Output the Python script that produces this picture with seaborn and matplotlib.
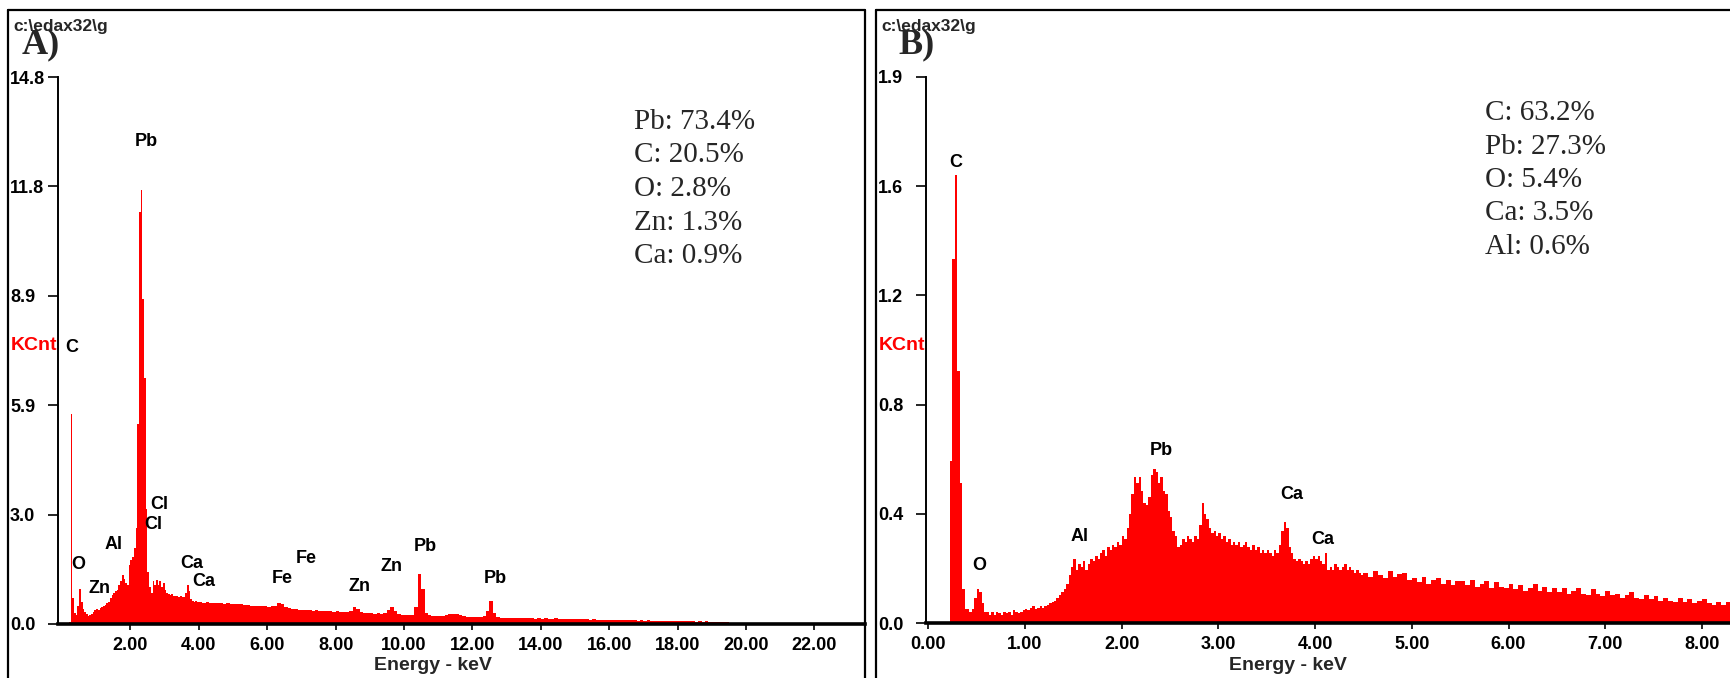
import numpy as np
import pandas as pd
import matplotlib
matplotlib.use("Agg")
import matplotlib.pyplot as plt
import seaborn as sns
from matplotlib.lines import Line2D

# ---------------- data ----------------
# Panel A spectrum (KCnt), fine channels 0.05 keV from 0.20, coarse 0.10 keV from 4.00
a_fine_start, a_fine_step = 0.20, 0.05
a_fine_counts = [
    0.05, 5.68, 0.70, 0.30, 0.25, 0.50, 0.95, 0.60, 0.40, 0.32,
    0.26, 0.22, 0.24, 0.28, 0.33, 0.38, 0.40, 0.38, 0.42, 0.45,
    0.48, 0.52, 0.56, 0.60, 0.70, 0.78, 0.84, 0.88, 0.92, 1.05,
    1.15, 1.33, 1.22, 1.12, 1.05, 1.60, 1.72, 1.80, 2.05, 2.60,
    5.40, 11.15, 11.75, 8.80, 6.65, 3.10, 1.40, 1.00, 0.85, 1.15,
    1.05, 1.20, 1.05, 1.15, 1.00, 1.10, 0.92, 0.85, 0.80, 0.78,
    0.80, 0.76, 0.75, 0.76, 0.74, 0.75, 0.72, 0.74, 0.85, 1.05,
    0.88, 0.68, 0.62, 0.60, 0.61, 0.59,
]
a_coarse_start, a_coarse_step = 4.00, 0.10
a_coarse_counts = [
    0.60, 0.58, 0.59, 0.57, 0.58, 0.56, 0.57, 0.55, 0.56, 0.54,
    0.55, 0.53, 0.54, 0.52, 0.51, 0.50, 0.49, 0.50, 0.48, 0.49,
    0.47, 0.48, 0.50, 0.58, 0.55, 0.45, 0.42, 0.40, 0.41, 0.38,
    0.39, 0.37, 0.38, 0.36, 0.37, 0.35, 0.36, 0.34, 0.35, 0.33,
    0.34, 0.33, 0.32, 0.33, 0.36, 0.46, 0.40, 0.32, 0.30, 0.29,
    0.30, 0.28, 0.29, 0.28, 0.30, 0.38, 0.47, 0.36, 0.27, 0.25,
    0.24, 0.25, 0.24, 0.45, 1.35, 0.95, 0.30, 0.24, 0.22, 0.21,
    0.21, 0.22, 0.25, 0.27, 0.26, 0.27, 0.25, 0.21, 0.19, 0.19,
    0.18, 0.19, 0.18, 0.22, 0.35, 0.62, 0.30, 0.20, 0.17, 0.16,
    0.17, 0.16, 0.15, 0.16, 0.15, 0.16, 0.15, 0.15, 0.14, 0.15,
    0.14, 0.15, 0.14, 0.14, 0.15, 0.14, 0.13, 0.14, 0.13, 0.14,
    0.13, 0.14, 0.13, 0.13, 0.12, 0.13, 0.12, 0.12, 0.11, 0.12,
    0.11, 0.11, 0.10, 0.11, 0.10, 0.11, 0.10, 0.10, 0.09, 0.10,
    0.09, 0.10, 0.09, 0.09, 0.08, 0.09, 0.08, 0.08, 0.07, 0.08,
    0.07, 0.07, 0.08, 0.07, 0.07, 0.06, 0.07, 0.06, 0.07, 0.06,
    0.06, 0.06, 0.06, 0.05, 0.06,
]

# Panel B spectrum (KCnt), fine channels 0.025 keV from 0.20, coarse 0.05 keV from 4.50
b_fine_start, b_fine_step = 0.20, 0.025
b_fine_counts = [
    0.00, 0.58, 1.30, 1.60, 0.90, 0.50, 0.12, 0.05,
    0.05, 0.04, 0.05, 0.09, 0.12, 0.11, 0.07, 0.04,
    0.04, 0.03, 0.04, 0.03, 0.04, 0.035, 0.03, 0.04,
    0.035, 0.04, 0.03, 0.045, 0.04, 0.035, 0.04, 0.045,
    0.05, 0.045, 0.055, 0.06, 0.05, 0.055, 0.06, 0.055,
    0.06, 0.065, 0.07, 0.075, 0.08, 0.09, 0.10, 0.11,
    0.12, 0.14, 0.17, 0.20, 0.23, 0.19, 0.21, 0.20,
    0.22, 0.19, 0.21, 0.23, 0.22, 0.24, 0.23, 0.25,
    0.26, 0.24, 0.27, 0.26, 0.28, 0.27, 0.29, 0.28,
    0.31, 0.30, 0.34, 0.39, 0.46, 0.52, 0.50, 0.52,
    0.47, 0.43, 0.42, 0.45, 0.53, 0.55, 0.54, 0.50,
    0.52, 0.47, 0.46, 0.40, 0.38, 0.33, 0.31, 0.27,
    0.28, 0.30, 0.29, 0.31, 0.30, 0.29, 0.31, 0.30,
    0.35, 0.43, 0.39, 0.37, 0.34, 0.32, 0.33, 0.31,
    0.32, 0.30, 0.31, 0.29, 0.30, 0.28, 0.29, 0.28,
    0.29, 0.27, 0.28, 0.29, 0.27, 0.26, 0.28, 0.26,
    0.27, 0.25, 0.26, 0.25, 0.26, 0.25, 0.24, 0.26,
    0.25, 0.28, 0.33, 0.36, 0.34, 0.27, 0.25, 0.23,
    0.22, 0.23, 0.22, 0.21, 0.22, 0.21, 0.23, 0.24,
    0.23, 0.24, 0.22, 0.21, 0.25, 0.19, 0.20, 0.19,
    0.21, 0.20, 0.19, 0.20, 0.21, 0.19, 0.20, 0.19,
    0.18, 0.19, 0.18, 0.17,
]
b_coarse_start, b_coarse_step = 4.50, 0.05
b_coarse_counts = [
    0.18, 0.165, 0.185, 0.17, 0.16, 0.185, 0.165, 0.175, 0.18, 0.155,
    0.16, 0.145, 0.165, 0.14, 0.155, 0.16, 0.14, 0.155, 0.135, 0.15,
    0.15, 0.135, 0.155, 0.13, 0.14, 0.15, 0.125, 0.145, 0.13, 0.125,
    0.14, 0.12, 0.135, 0.115, 0.125, 0.14, 0.115, 0.13, 0.11, 0.125,
    0.11, 0.125, 0.105, 0.115, 0.125, 0.105, 0.10, 0.12, 0.105, 0.095,
    0.115, 0.10, 0.105, 0.09, 0.10, 0.11, 0.09, 0.085, 0.10, 0.085,
    0.095, 0.08, 0.09, 0.08, 0.075, 0.09, 0.075, 0.085, 0.07, 0.08,
    0.085, 0.07, 0.065, 0.075, 0.065, 0.075,
]

a_xticks = [2, 4, 6, 8, 10, 12, 14, 16, 18, 20, 22]
a_xticklabels = ["2.00", "4.00", "6.00", "8.00", "10.00", "12.00", "14.00",
                 "16.00", "18.00", "20.00", "22.00"]
a_ymax = 14.8
a_yticks = [0, 2.96, 5.92, 8.88, 11.84, 14.8]
a_yticklabels = ["0.0", "3.0", "5.9", "8.9", "11.8", "14.8"]

b_xticks = [0, 1, 2, 3, 4, 5, 6, 7, 8]
b_xticklabels = ["0.00", "1.00", "2.00", "3.00", "4.00", "5.00", "6.00", "7.00", "8.00"]
b_ymax = 1.95
b_yticks = [0, 0.39, 0.78, 1.17, 1.56, 1.95]
b_yticklabels = ["0.0", "0.4", "0.8", "1.2", "1.6", "1.9"]

a_peak_names = ["Pb", "C", "Cl", "Cl", "Al", "O", "Zn", "Ca", "Ca", "Fe", "Fe",
                "Zn", "Zn", "Pb", "Pb"]
b_peak_names = ["C", "O", "Al", "Pb", "Ca", "Ca"]

a_composition = ["Pb: 73.4%", "C: 20.5%", "O: 2.8%", "Zn: 1.3%", "Ca: 0.9%"]
b_composition = ["C: 63.2%", "Pb: 27.3%", "O: 5.4%", "Ca: 3.5%", "Al: 0.6%"]

# ---------------- layout (pixels of the 1730x678 canvas) ----------------
W, H = 1730, 678
a_peak_pos = [(2.47, 13.05), (0.28, 7.49), (2.84, 3.23), (2.66, 2.68), (1.52, 2.14),
              (0.47, 1.60), (1.11, 0.95), (3.79, 1.64), (4.14, 1.15), (6.45, 1.23),
              (7.13, 1.77), (8.71, 1.01), (9.63, 1.56), (10.61, 2.10), (12.66, 1.23)]
b_peak_pos = [(0.286, 1.643), (0.53, 0.204), (1.56, 0.31), (2.41, 0.615),
              (3.76, 0.46), (4.08, 0.30)]


def build(start_f, step_f, cnt_f, start_c, step_c, cnt_c):
    e_f = start_f + step_f * np.arange(len(cnt_f))
    e_c = start_c + step_c * np.arange(len(cnt_c))
    edges = np.concatenate([e_f, e_c, [e_c[-1] + step_c]])
    centers = np.concatenate([e_f + step_f / 2, e_c + step_c / 2])
    df = pd.DataFrame({"energy": centers,
                       "kcnt": np.concatenate([cnt_f, cnt_c]).astype(float)})
    return df, [float(v) for v in edges]


sns.set_style("white")
plt.rcParams["font.family"] = ["Liberation Sans", "DejaVu Sans"]

fig = plt.figure(figsize=(W / 100, H / 100), dpi=100)


def fx(x):
    return x / W


def fy(y):
    return 1 - y / H


axA = fig.add_axes([fx(58), fy(624), (865 - 58) / W, (624 - 77) / H])
axB = fig.add_axes([fx(926), fy(623), (W - 926) / W, (623 - 77) / H])

dfA, edgesA = build(a_fine_start, a_fine_step, a_fine_counts,
                    a_coarse_start, a_coarse_step, a_coarse_counts)
dfB, edgesB = build(b_fine_start, b_fine_step, b_fine_counts,
                    b_coarse_start, b_coarse_step, b_coarse_counts)

red = "#ff0000"
for ax, df, edges in ((axA, dfA, edgesA), (axB, dfB, edgesB)):
    try:
        sns.histplot(data=df, x="energy", weights="kcnt", bins=edges, element="step",
                     fill=True, color=red, alpha=1, linewidth=0, ax=ax)
    except Exception:
        for coll in list(ax.collections) + list(ax.patches) + list(ax.lines):
            coll.remove()
        ys = np.append(df["kcnt"].to_numpy(), df["kcnt"].to_numpy()[-1])
        sns.lineplot(x=edges, y=ys, drawstyle="steps-post", color=red,
                     linewidth=0, ax=ax)
        ax.fill_between(edges, ys, step="post", color=red, linewidth=0)

axA.set_xlim(-0.117, 23.48)
axA.set_ylim(0, a_ymax)
axB.set_xlim(-0.024, 8.29)
axB.set_ylim(0, b_ymax)

axA.set_xticks(a_xticks, labels=a_xticklabels)
axA.set_yticks(a_yticks, labels=a_yticklabels, ha="left")
axB.set_xticks(b_xticks, labels=b_xticklabels)
axB.set_yticks(b_yticks, labels=b_yticklabels, ha="left")

for ax in (axA, axB):
    ax.set_xlabel("")
    ax.set_ylabel("")
    ax.patch.set_alpha(0)
    sns.despine(ax=ax, top=True, right=True)
    ax.spines["left"].set_linewidth(1.4)
    ax.spines["left"].set_color("black")
    ax.spines["bottom"].set_linewidth(2.6)
    ax.spines["bottom"].set_color("black")
    ax.tick_params(axis="y", direction="out", length=7.2, width=1.2, pad=27.4,
                   labelsize=13, colors="black", left=True)
    ax.tick_params(axis="x", direction="out", length=4.5, width=1.2, pad=4.8,
                   labelsize=13, colors="black", bottom=True)
    for lab in ax.get_xticklabels() + ax.get_yticklabels():
        lab.set_fontweight("bold")

for ax, names, pos in ((axA, a_peak_names, a_peak_pos), (axB, b_peak_names, b_peak_pos)):
    for name, (px, py) in zip(names, pos):
        ax.text(px, py, name, ha="center", va="center", fontsize=13,
                fontweight="bold", color="black")

# Panel decorations
serif = ["Liberation Serif", "DejaVu Serif"]
for x0, label, kx, lx, ex, comp_x, comp_y0, comp in (
        (13, "A)", 11, 22, 433, 634, 129, a_composition),
        (881, "B)", 879, 898, 1288, 1485, 120, b_composition)):
    fig.text(fx(x0), fy(26), "c:\\edax32\\g", ha="left", va="center",
             fontsize=12.5, fontweight="bold")
    fig.text(fx(lx), fy(53), label, ha="left", va="baseline", fontsize=26,
             fontweight="bold", family=serif)
    fig.text(fx(kx), fy(345), "KCnt", ha="left", va="center", fontsize=14,
             fontweight="bold", color=red)
    fig.text(fx(ex), fy(666), "Energy - keV", ha="center", va="center",
             fontsize=14, fontweight="bold")
    for i, line in enumerate(comp):
        fig.text(fx(comp_x), fy(comp_y0 + 33.5 * i), line, ha="left",
                 va="baseline", fontsize=21, family=serif)

# Frames around the two panels
frame_kw = dict(transform=fig.transFigure, color="black", linewidth=1.6)
fig.add_artist(Line2D([fx(8), fx(8)], [fy(10), fy(H)], **frame_kw))
fig.add_artist(Line2D([fx(8), fx(865)], [fy(10), fy(10)], **frame_kw))
fig.add_artist(Line2D([fx(865), fx(865)], [fy(10), fy(H)], **frame_kw))
fig.add_artist(Line2D([fx(876), fx(876)], [fy(10), fy(H)], **frame_kw))
fig.add_artist(Line2D([fx(876), fx(W)], [fy(10), fy(10)], **frame_kw))

fig.savefig("out.png", dpi=100, facecolor="white")
